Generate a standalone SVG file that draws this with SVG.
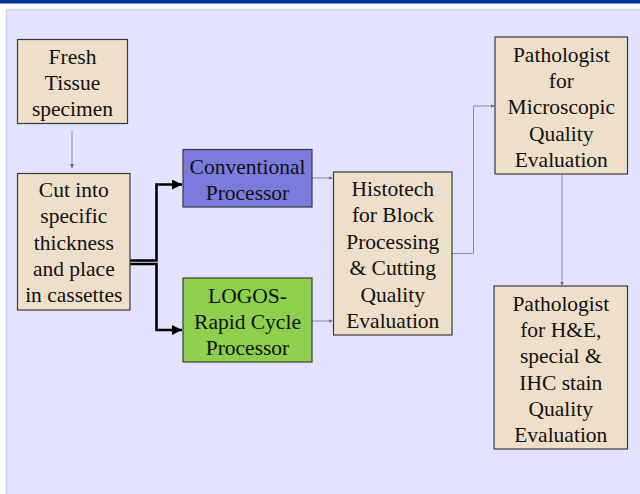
<svg xmlns="http://www.w3.org/2000/svg" width="640" height="494" viewBox="0 0 640 494">
<defs>
<style>
.box{fill:#EEDFCA;stroke:#3a3a3a;stroke-width:1.2}
text.t{font-family:"Liberation Serif","Times New Roman",serif !important;font-size:21.5px;fill:#111;text-anchor:middle}
.thin{fill:none;stroke:#8a8aa8;stroke-width:1}
.thick{fill:none;stroke:#000;stroke-width:2.6}
</style>
<marker id="sm" viewBox="0 0 6 6" refX="6" refY="3" markerWidth="4" markerHeight="4" markerUnits="userSpaceOnUse" orient="auto"><path d="M0,0 L6,3 L0,6 z" fill="#6a6a88"/></marker>
<marker id="bg" viewBox="0 0 10 10" refX="10" refY="5" markerWidth="10" markerHeight="10" markerUnits="userSpaceOnUse" orient="auto"><path d="M0,0 L10,5 L0,10 z" fill="#000"/></marker>
</defs>
<rect x="0" y="0" width="640" height="494" fill="#ffffff"/>
<rect x="0" y="0" width="640" height="3.5" fill="#003399"/>
<rect x="6.5" y="9.5" width="640" height="490" fill="#E3E3FF" stroke="#D2D2F0" stroke-width="1.5"/>

<g id="connectors">
<line class="thin" x1="72" y1="131" x2="72" y2="168" marker-end="url(#sm)"/>
<path class="thick" d="M130,260.5 H156.5 V184.5 H182" marker-end="url(#bg)"/>
<path class="thick" d="M130,264 H156.5 V330 H182" marker-end="url(#bg)"/>
<line class="thin" x1="312" y1="178" x2="332.5" y2="178" marker-end="url(#sm)"/>
<line class="thin" x1="312" y1="321" x2="332.5" y2="321" marker-end="url(#sm)"/>
<path class="thin" d="M452,253.5 H473.5 V106 H494.5" marker-end="url(#sm)"/>
<line class="thin" x1="562" y1="174" x2="562" y2="285.5" marker-end="url(#sm)"/>
</g>

<g id="fresh">
<rect class="box" x="17.5" y="39.5" width="110" height="84"/>
<text class="t" font-family="Liberation Serif" x="72.5" y="63.5">Fresh</text>
<text class="t" font-family="Liberation Serif" x="72.5" y="89.7">Tissue</text>
<text class="t" font-family="Liberation Serif" x="72.5" y="115.9">specimen</text>
</g>

<g id="cut">
<rect class="box" x="17.5" y="173.5" width="112.5" height="136.5"/>
<text class="t" font-family="Liberation Serif" x="73.8" y="197">Cut into</text>
<text class="t" font-family="Liberation Serif" x="73.8" y="223.3">specific</text>
<text class="t" font-family="Liberation Serif" x="73.8" y="249.6">thickness</text>
<text class="t" font-family="Liberation Serif" x="73.8" y="275.9">and place</text>
<text class="t" font-family="Liberation Serif" x="73.8" y="302.2">in cassettes</text>
</g>

<g id="conventional">
<rect class="box" x="183" y="149.5" width="129" height="57.5" style="fill:#7B7BDD"/>
<text class="t" font-family="Liberation Serif" x="247.5" y="173.5">Conventional</text>
<text class="t" font-family="Liberation Serif" x="247.5" y="200">Processor</text>
</g>

<g id="logos">
<rect class="box" x="183" y="278" width="129" height="84" style="fill:#8ECF4E"/>
<text class="t" font-family="Liberation Serif" x="247.5" y="302.5">LOGOS-</text>
<text class="t" font-family="Liberation Serif" x="247.5" y="329">Rapid Cycle</text>
<text class="t" font-family="Liberation Serif" x="247.5" y="355">Processor</text>
</g>

<g id="histotech">
<rect class="box" x="333.5" y="172" width="118.5" height="163"/>
<text class="t" font-family="Liberation Serif" x="392.8" y="196">Histotech</text>
<text class="t" font-family="Liberation Serif" x="392.8" y="222.4">for Block</text>
<text class="t" font-family="Liberation Serif" x="392.8" y="248.8">Processing</text>
<text class="t" font-family="Liberation Serif" x="392.8" y="275.2">&amp; Cutting</text>
<text class="t" font-family="Liberation Serif" x="392.8" y="301.6">Quality</text>
<text class="t" font-family="Liberation Serif" x="392.8" y="328">Evaluation</text>
</g>

<g id="path-micro">
<rect class="box" x="495" y="37" width="132.5" height="137"/>
<text class="t" font-family="Liberation Serif" x="561.3" y="61.7">Pathologist</text>
<text class="t" font-family="Liberation Serif" x="561.3" y="88">for</text>
<text class="t" font-family="Liberation Serif" x="561.3" y="114.3">Microscopic</text>
<text class="t" font-family="Liberation Serif" x="561.3" y="140.6">Quality</text>
<text class="t" font-family="Liberation Serif" x="561.3" y="166.9">Evaluation</text>
</g>

<g id="path-he">
<rect class="box" x="494" y="286" width="133.5" height="163"/>
<text class="t" font-family="Liberation Serif" x="560.8" y="310.7">Pathologist</text>
<text class="t" font-family="Liberation Serif" x="560.8" y="337">for H&amp;E,</text>
<text class="t" font-family="Liberation Serif" x="560.8" y="363.3">special &amp;</text>
<text class="t" font-family="Liberation Serif" x="560.8" y="389.6">IHC stain</text>
<text class="t" font-family="Liberation Serif" x="560.8" y="415.9">Quality</text>
<text class="t" font-family="Liberation Serif" x="560.8" y="442.2">Evaluation</text>
</g>
</svg>
